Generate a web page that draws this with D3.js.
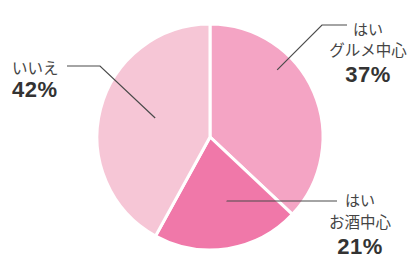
<!DOCTYPE html>
<html>
<head>
<meta charset="utf-8">
<script src="https://cdn.jsdelivr.net/npm/d3@7"></script>
<style>
  html, body { margin: 0; padding: 0; background: #fff; }
  svg { display: block; }
</style>
</head>
<body>
<svg id="chart"></svg>
<script>
// data
var categories = ["グルメ中心", "お酒中心", "いいえ"];
var answers = ["はい", "はい", ""];
var shares = [37, 21, 42];
var sliceColors = ["#f4a4c4", "#f078a9", "#f6c6d6"];

var width = 418, height = 271;
var cx = 210, cy = 137, radius = 113;

var svg = d3.select("#chart")
    .attr("width", width)
    .attr("height", height);

var g = svg.append("g")
    .attr("transform", "translate(" + cx + "," + cy + ")");

var pie = d3.pie().sort(null).value(function (d) { return d; });
var arcs = pie(shares);

var arc = d3.arc().innerRadius(0).outerRadius(radius);

g.selectAll("path.slice")
    .data(arcs)
    .enter().append("path")
    .attr("class", "slice")
    .attr("d", arc)
    .attr("fill", function (d, i) { return sliceColors[i]; })
    .attr("stroke", "#fff")
    .attr("stroke-width", 3)
    .attr("stroke-linejoin", "miter");

// point on the pie for a given angle (clockwise from top) and radius
function onPie(angle, r) {
    return [cx + r * Math.sin(angle), cy - r * Math.cos(angle)];
}

// label layout: leader start inside the slice, elbow, end, and text block
var labelLayout = [
    {inner: [0.25 * Math.PI, 95], elbow: [322, 25], end: [347, 25], tx: 368, ty: [35, 56, 82], anchor: "middle"},
    {inner: [0.917 * Math.PI, 66], elbow: [227, 201], end: [337, 201], tx: 360, ty: [206, 228, 254], anchor: "middle"},
    {inner: [1.606 * Math.PI, 58], elbow: [100, 66], end: [67, 66], tx: 12, ty: [null, 74, 97], anchor: "start"}
];

var labels = svg.append("g").attr("class", "labels");

arcs.forEach(function (d, i) {
    var L = labelLayout[i];
    var p0 = onPie(L.inner[0], L.inner[1]);
    labels.append("path")
        .attr("d", d3.line()([p0, L.elbow, L.end]))
        .attr("fill", "none")
        .attr("stroke", "#4a4a4a")
        .attr("stroke-width", 1.2);

    if (answers[i]) {
        labels.append("text")
            .attr("x", L.tx).attr("y", L.ty[0])
            .attr("text-anchor", L.anchor)
            .style("font-family", "'Noto Sans CJK JP', sans-serif")
            .style("font-size", "15px")
            .style("fill", "#444")
            .text(answers[i]);
    }
    labels.append("text")
        .attr("x", L.tx).attr("y", L.ty[1])
        .attr("text-anchor", L.anchor)
        .style("font-family", "'Noto Sans CJK JP', sans-serif")
        .style("font-size", "15.5px")
        .style("fill", "#444")
        .text(categories[i]);
    labels.append("text")
        .attr("x", L.tx).attr("y", L.ty[2])
        .attr("text-anchor", L.anchor)
        .style("font-family", "'Liberation Sans', Arial, sans-serif")
        .style("font-weight", "bold")
        .style("font-size", "22px")
        .style("letter-spacing", "0.5px")
        .style("fill", "#333")
        .text(d.data + "%");
});
</script>
</body>
</html>
